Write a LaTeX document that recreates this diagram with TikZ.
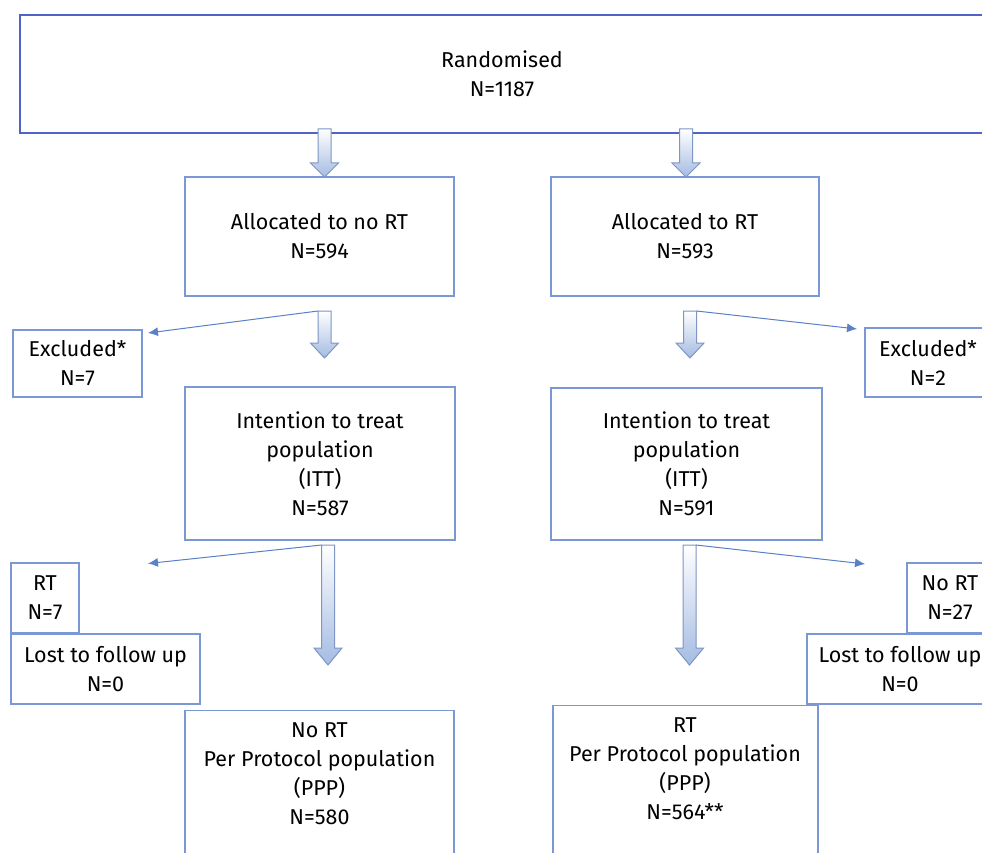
\documentclass[tikz,border=0pt]{standalone}
\usepackage{fontspec}
\setmainfont{Fira Sans}
\usetikzlibrary{arrows.meta,calc}
\definecolor{boxc}{HTML}{7A98D6}
\definecolor{topc}{HTML}{4F63C8}
\definecolor{linec}{HTML}{5A80C8}
\definecolor{afill}{HTML}{A4BBE2}
\definecolor{aedge}{HTML}{7F95C4}
\newcommand\blkarrow[4]{%
  \shade[top color=white, bottom color=afill, draw=aedge, line width=1pt, line join=miter]
    (#1-6.5,#2) -- (#1+6.5,#2) -- (#1+6.5,#3) -- (#1+14,#3) -- (#1,#4) -- (#1-14,#3) -- (#1-6.5,#3) -- cycle;}
\begin{document}
\begin{tikzpicture}[x=1pt,y=-1pt,
  box/.style={draw=boxc, line width=1.1pt, fill=white, inner sep=0pt, align=center, rectangle},
  txt/.style={inner sep=0pt, align=center},
  thinarrow/.style={draw=linec, line width=1pt, -{Latex[length=10pt,width=9pt]}},
  every node/.append style={font=\fontsize{21.5}{29}\selectfont}]
\useasboundingbox[fill=white] (0,0) rectangle (982,853);

% top box
\node[box, draw=topc, minimum width=964, minimum height=118] (rand) at (502,74) {Randomised\\N=1187};

% allocation boxes
\node[box, minimum width=269, minimum height=119] (allocno) at (319.5,236.5) {Allocated to no RT\\N=594};
\node[box, minimum width=268, minimum height=119] (allocrt) at (685,236.5) {Allocated to RT\\N=593};

% excluded
\node[box, minimum width=129, minimum height=67] (exl) at (77.5,363.5) {Excluded*\\N=7};
\node[box, minimum width=126, minimum height=69] (exr) at (928,362.5) {Excluded*\\N=2};

% ITT
\node[box, minimum width=270, minimum height=153] (ittl) at (320,463.5) {Intention to treat\\population\\(ITT)\\N=587};
\node[box, minimum width=271, minimum height=152] (ittr) at (686.5,464) {Intention to treat\\population\\(ITT)\\N=591};

% side boxes bottom
\node[box, minimum width=68, minimum height=70] (rtl) at (45,598) {RT\\N=7};
\node[box, minimum width=189, minimum height=70] (lostl) at (105.5,669) {Lost to follow up\\N=0};
\node[box, minimum width=86, minimum height=70] (nortr) at (950,598) {No RT\\N=27};
\node[box, minimum width=186, minimum height=70] (lostr) at (900,669) {Lost to follow up\\N=0};

% PPP boxes
\node[box, minimum width=269, minimum height=200, anchor=north] (pppl) at (319.5,710) {};
\node[txt] (ppplt) at (319.5,773.5) {No RT\\Per Protocol population\\(PPP)\\N=580};
\node[box, minimum width=265, minimum height=200, anchor=north] (pppr) at (685.5,705) {};
\node[txt] (ppprt) at (685,768.5) {RT\\Per Protocol population\\(PPP)\\N=564**};

% block arrows
\blkarrow{324.5}{129}{163}{177}
\blkarrow{686}{129}{163}{177}
\blkarrow{324.5}{311}{343}{358}
\blkarrow{690}{311}{343}{358}
\blkarrow{328}{545}{648}{665}
\blkarrow{689.5}{545}{648}{665}

% thin arrows
\coordinate (s1) at (318,311);
\coordinate (e1) at (148,333);
\coordinate (s2) at (696.5,311);
\coordinate (e2) at (857,329);
\coordinate (s3) at (321.5,545);
\coordinate (e3) at (148,563.5);
\coordinate (s4) at (696,545);
\coordinate (e4) at (865,564);
\draw[thinarrow] (s1) -- (e1);
\draw[thinarrow] (s2) -- (e2);
\draw[thinarrow] (s3) -- (e3);
\draw[thinarrow] (s4) -- (e4);
\end{tikzpicture}
\end{document}
